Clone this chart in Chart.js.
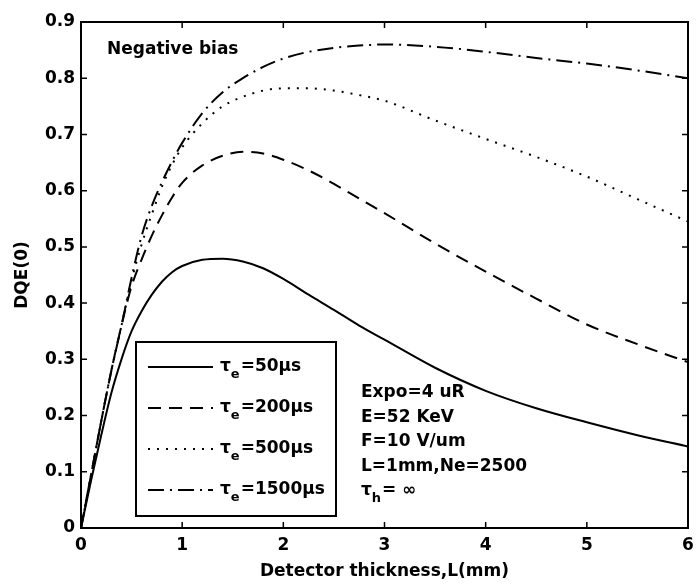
<!DOCTYPE html>
<html>
<head>
<meta charset="utf-8">
<script src="https://cdn.jsdelivr.net/npm/chart.js@4.4.1/dist/chart.umd.min.js"></script>
<style>
  body { margin: 0; background: #fff; }
  canvas { display: block; }
</style>
</head>
<body>
<canvas id="dqe" width="697" height="586"></canvas>
<script>
// detector thickness L (mm)
const thickness = [0, 0.1, 0.2, 0.3, 0.4, 0.5, 0.6, 0.7, 0.8, 0.9, 1.0, 1.2, 1.4, 1.6, 1.8, 2.0,
                   2.25, 2.5, 2.75, 3.0, 3.5, 4.0, 4.5, 5.0, 5.5, 6.0];

// DQE(0) for each electron lifetime
const dqe50 = [0, 0.085, 0.165, 0.24, 0.30, 0.35, 0.386, 0.415, 0.438, 0.455, 0.466, 0.477, 0.479, 0.474, 0.462, 0.443,
               0.415, 0.388, 0.36, 0.335, 0.285, 0.244, 0.213, 0.188, 0.165, 0.145];
const dqe200 = [0, 0.095, 0.19, 0.28, 0.36, 0.43, 0.478, 0.52, 0.556, 0.588, 0.614, 0.645, 0.662, 0.669, 0.666, 0.655,
                0.636, 0.612, 0.586, 0.56, 0.506, 0.456, 0.408, 0.362, 0.327, 0.295];
const dqe500 = [0, 0.095, 0.19, 0.28, 0.36, 0.44, 0.505, 0.558, 0.607, 0.646, 0.677, 0.72, 0.75, 0.767, 0.778, 0.782,
                0.782, 0.778, 0.77, 0.76, 0.725, 0.692, 0.66, 0.625, 0.585, 0.545];
const dqe1500 = [0, 0.095, 0.19, 0.28, 0.36, 0.445, 0.52, 0.573, 0.615, 0.652, 0.685, 0.738, 0.775, 0.80, 0.82, 0.835,
                 0.847, 0.854, 0.858, 0.86, 0.856, 0.847, 0.836, 0.826, 0.814, 0.80];

const lifetimes = ['50', '200', '500', '1500'];
const yTickLabels = ['0', '0.1', '0.2', '0.3', '0.4', '0.5', '0.6', '0.7', '0.8', '0.9'];
const infoLines = ['Expo=4 uR', 'E=52 KeV', 'F=10 V/um', 'L=1mm,Ne=2500'];

const FONT = 'DejaVu Sans';
const dashes = [[], [13, 8], [2, 7], [16, 6, 2, 6]];

function pts(ys) {
    return thickness.map((x, i) => ({ x: x, y: ys[i] }));
}

const series = [dqe50, dqe200, dqe500, dqe1500];
const datasets = series.map((ys, i) => ({
    label: 'τe=' + lifetimes[i] + 'µs',
    data: pts(ys),
    borderColor: '#000',
    borderWidth: 2,
    borderDash: dashes[i],
    pointRadius: 0,
    cubicInterpolationMode: 'monotone',
    fill: false
}));

// text with a subscript, e.g. τ_e
function subText(ctx, x, y, main, sub, rest) {
    ctx.font = 'bold 17px ' + FONT;
    ctx.fillText(main, x, y);
    x += ctx.measureText(main).width;
    ctx.font = 'bold 13px ' + FONT;
    ctx.fillText(sub, x, y + 8);
    x += ctx.measureText(sub).width + 1;
    ctx.font = 'bold 17px ' + FONT;
    ctx.fillText(rest, x, y);
}

const decorations = {
    id: 'decorations',
    afterDraw(chart) {
        const ctx = chart.ctx;
        const a = chart.chartArea;
        const xs = chart.scales.x, ys = chart.scales.y;
        ctx.save();
        ctx.strokeStyle = '#000';
        ctx.fillStyle = '#000';

        // box round the axes with ticks pointing inward
        ctx.lineWidth = 2;
        ctx.setLineDash([]);
        ctx.strokeRect(a.left, a.top, a.right - a.left, a.bottom - a.top);
        ctx.lineWidth = 1.5;
        ctx.beginPath();
        xs.ticks.forEach(t => {
            const px = xs.getPixelForValue(t.value);
            ctx.moveTo(px, a.bottom); ctx.lineTo(px, a.bottom - 6);
            ctx.moveTo(px, a.top); ctx.lineTo(px, a.top + 6);
        });
        ys.ticks.forEach(t => {
            const py = ys.getPixelForValue(t.value);
            ctx.moveTo(a.left, py); ctx.lineTo(a.left + 6, py);
            ctx.moveTo(a.right, py); ctx.lineTo(a.right - 6, py);
        });
        ctx.stroke();

        // Negative bias label
        ctx.textBaseline = 'middle';
        ctx.textAlign = 'left';
        ctx.font = 'bold 17px ' + FONT;
        ctx.fillText('Negative bias', a.left + 26, a.top + 28);

        // legend box
        const bx = a.left + 55, by = a.top + 320, bw = 200, bh = 174;
        ctx.fillStyle = '#fff';
        ctx.fillRect(bx, by, bw, bh);
        ctx.fillStyle = '#000';
        ctx.lineWidth = 2;
        ctx.strokeRect(bx, by, bw, bh);
        datasets.forEach((ds, i) => {
            const ry = by + 25 + i * 41;
            ctx.lineWidth = 2;
            ctx.setLineDash(ds.borderDash);
            ctx.beginPath();
            ctx.moveTo(bx + 12, ry);
            ctx.lineTo(bx + 77, ry);
            ctx.stroke();
            ctx.setLineDash([]);
            subText(ctx, bx + 84, ry, 'τ', 'e', '=' + lifetimes[i] + 'µs');
        });

        // parameter notes
        ctx.font = 'bold 17px ' + FONT;
        const tx = a.left + 280;
        infoLines.forEach((s, i) => {
            ctx.fillText(s, tx, a.top + 371 + i * 24.5);
        });
        subText(ctx, tx, a.top + 371 + 4 * 24.5, 'τ', 'h', '= ∞');

        ctx.restore();
    }
};

const tickFont = { family: FONT, size: 17, weight: 'bold' };

new Chart(document.getElementById('dqe').getContext('2d'), {
    type: 'line',
    data: { datasets: datasets },
    options: {
        responsive: false,
        animation: false,
        layout: { padding: { left: 0, right: 9, top: 22, bottom: 0 } },
        plugins: {
            legend: { display: false },
            tooltip: { enabled: false }
        },
        scales: {
            x: {
                type: 'linear',
                min: 0,
                max: 6,
                afterFit: s => { s.height = 58; s.paddingLeft = 0; s.paddingRight = 0; },
                grid: { display: false, drawTicks: false },
                border: { display: false },
                ticks: { stepSize: 1, color: '#000', font: tickFont, padding: 7, maxRotation: 0 },
                title: {
                    display: true,
                    text: 'Detector thickness,L(mm)',
                    color: '#000',
                    font: tickFont,
                    padding: { top: 0, bottom: 4 }
                }
            },
            y: {
                min: 0,
                max: 0.9,
                afterFit: s => { s.width = 81; },
                grid: { display: false, drawTicks: false },
                border: { display: false },
                ticks: {
                    stepSize: 0.1,
                    color: '#000',
                    font: tickFont,
                    padding: 6,
                    callback: (v, i) => yTickLabels[i]
                },
                title: {
                    display: true,
                    text: 'DQE(0)',
                    color: '#000',
                    font: tickFont,
                    padding: { top: 12, bottom: 0 }
                }
            }
        }
    },
    plugins: [decorations]
});
</script>
</body>
</html>
